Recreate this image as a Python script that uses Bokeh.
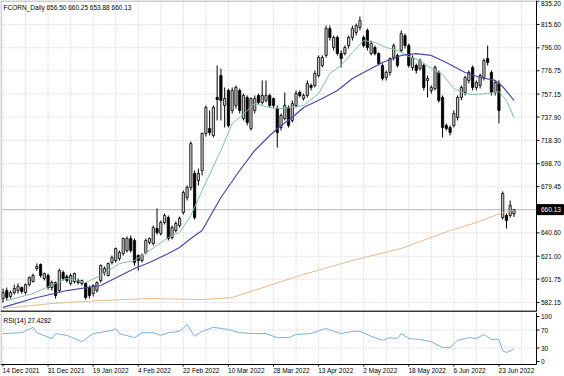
from bokeh.plotting import figure
from bokeh.layouts import column
from bokeh.models import ColumnDataSource, Range1d
from bokeh.core.properties import value
from bokeh.embed import file_html
from bokeh.resources import INLINE

symbol = "FCORN_Daily"
last_ohlc = [656.50, 660.25, 653.88, 660.13]
rsi_last = 27.4282

open_ = [585.5, 592.2, 587.2, 590.5, 592.2, 594.7, 590.5, 597.2, 599.8, 610.7, 614.1, 602.3, 604.8, 594.7,
         598.9, 592.2, 607.3, 604.0, 598.1, 599.8, 600.6, 598.1, 598.1, 594.7, 589.7, 592.2, 600.6, 607.3,
         604.8, 615.7, 617.4, 619.1, 623.3, 625.8, 635.9, 634.2, 621.6, 617.4, 624.1, 632.5, 631.7, 644.3,
         640.1, 649.3, 653.5, 636.7, 642.6, 646.8,
         657.7, 670.3, 678.7, 690.5, 684.6, 693.0, 724.1, 728.2, 722.4, 754.3, 772.7, 747.6, 760.2, 743.4,
         747.6, 760.2, 736.6, 754.3, 728.2, 743.4, 756.0, 750.1, 751.8, 756.0, 753.4, 745.0, 729.1, 736.6,
         745.9, 735.0, 747.6, 758.5, 753.4, 756.0, 764.4, 764.4, 772.7, 781.2, 789.6, 812.2, 796.3, 804.7,
         791.2, 791.2, 797.9, 804.7, 808.9,
         813.1, 804.7, 810.6, 791.2, 796.3, 791.2, 781.2, 771.1, 775.3, 787.9, 789.6, 793.8, 806.3, 797.9,
         779.5, 781.2, 778.6, 781.2, 768.6, 760.2, 761.8, 775.3, 754.3, 730.8, 729.1, 730.8, 737.5, 754.3,
         758.5, 768.6, 779.5, 762.7, 764.4, 771.1, 787.0, 775.3, 758.5, 766.0, 653.5, 655.2, 655.2, 656.50]
high_ = [593.9, 594.7, 592.2, 597.2, 598.1, 595.6, 598.1, 604.0, 606.5, 614.9, 614.9, 607.3, 606.5, 600.6,
         599.8, 610.7, 609.0, 605.7, 606.5, 607.3, 602.3, 601.4, 598.9, 596.4, 597.2, 599.8, 614.1, 612.4,
         615.7, 621.6, 628.3, 625.8, 636.7, 637.6, 638.4, 635.9, 622.5, 623.3, 635.9, 636.7, 646.8, 661.1,
         651.0, 656.9, 655.2, 646.8, 650.2, 654.4,
         676.2, 680.4, 717.3, 693.0, 694.7, 724.9, 747.6, 743.4, 747.6, 781.2, 778.6, 762.7, 761.8, 762.7,
         764.4, 761.8, 757.6, 756.0, 754.3, 756.0, 757.6, 768.6, 768.6, 757.6, 754.3, 747.6, 740.9, 758.5,
         747.6, 751.8, 760.2, 760.2, 757.6, 768.6, 766.0, 777.0, 789.6, 789.6, 814.7, 814.7, 806.3, 806.3,
         793.8, 797.9, 806.3, 814.7, 816.4,
         822.3, 806.3, 812.2, 802.1, 797.9, 792.1, 782.8, 777.0, 787.9, 799.6, 791.2, 810.6, 808.0, 799.6,
         789.6, 782.8, 787.0, 782.8, 772.7, 764.4, 781.2, 777.0, 756.0, 732.5, 730.8, 743.4, 756.0, 764.4,
         772.7, 777.0, 781.2, 768.6, 774.4, 787.0, 797.9, 777.0, 768.6, 768.6, 675.4, 656.9, 667.8, 660.25]
low_ = [582.1, 583.8, 585.5, 588.9, 589.7, 589.7, 588.9, 595.6, 598.9, 609.0, 603.1, 600.6, 593.0, 592.2,
        585.5, 590.5, 600.6, 598.9, 596.4, 598.1, 597.2, 596.4, 584.6, 585.5, 587.2, 590.5, 598.9, 604.8,
        604.0, 614.1, 615.7, 617.4, 621.6, 624.1, 624.1, 613.2, 609.0, 615.7, 622.5, 630.9, 630.0, 639.2,
        638.4, 647.6, 634.2, 635.1, 640.9, 645.1,
        656.0, 667.8, 676.2, 651.8, 680.4, 688.8, 721.5, 722.4, 720.7, 735.0, 735.0, 729.1, 729.1, 740.9,
        745.0, 740.9, 735.0, 730.8, 726.6, 740.9, 748.4, 748.4, 750.1, 745.9, 745.0, 712.3, 726.6, 735.0,
        729.1, 733.3, 745.9, 754.3, 751.8, 754.3, 760.2, 762.7, 771.1, 779.5, 787.9, 802.1, 793.8, 789.6,
        779.5, 789.6, 795.4, 802.1, 806.3,
        810.6, 796.3, 793.8, 789.6, 789.6, 781.2, 768.6, 768.6, 772.7, 785.4, 779.5, 792.1, 795.4, 779.5,
        777.0, 774.4, 777.0, 760.2, 754.3, 757.6, 760.2, 750.1, 720.7, 726.6, 722.4, 729.1, 735.0, 751.8,
        756.0, 766.0, 760.2, 760.2, 761.8, 768.6, 781.2, 756.0, 756.0, 732.5, 651.8, 644.3, 653.5, 653.88]
close_ = [590.5, 586.3, 590.5, 593.9, 595.6, 591.4, 597.2, 603.1, 604.8, 612.4, 604.8, 606.5, 594.7, 598.9,
          588.0, 609.0, 602.3, 600.6, 604.8, 606.5, 598.9, 600.6, 586.3, 588.0, 596.4, 598.9, 613.2, 610.7,
          614.9, 619.9, 627.5, 624.1, 635.9, 635.9, 625.8, 615.7, 617.4, 621.6, 634.2, 635.9, 645.1, 640.9,
          649.3, 655.2, 635.9, 645.1, 648.5, 652.7,
          674.5, 678.7, 715.6, 653.5, 690.5, 724.1, 745.9, 724.9, 745.9, 752.6, 751.8, 753.4, 730.8, 760.2,
          762.7, 743.4, 756.0, 733.3, 753.4, 753.4, 750.1, 756.0, 756.0, 747.6, 747.6, 724.9, 739.2, 747.6,
          730.8, 749.2, 757.6, 756.0, 756.0, 766.0, 762.7, 774.4, 787.9, 787.9, 812.2, 804.7, 804.7, 791.2,
          787.0, 796.3, 804.7, 812.2, 814.7,
          818.9, 797.9, 796.3, 799.6, 791.2, 782.8, 770.2, 775.3, 787.0, 797.9, 781.2, 808.0, 797.9, 781.2,
          787.9, 777.0, 785.4, 762.7, 770.2, 762.7, 779.5, 751.8, 729.1, 728.2, 724.9, 740.9, 754.3, 762.7,
          771.1, 775.3, 762.7, 766.9, 772.7, 785.4, 783.7, 758.5, 766.9, 743.4, 673.7, 651.0, 663.6, 660.13]

ma_fast_idx = [1, 8, 17, 22, 26, 31, 35, 39, 44, 47, 50, 53, 58, 61, 63, 67, 71, 74, 77, 80, 84, 87, 90, 93,
               96, 99, 102, 105, 108, 111, 114, 117, 120, 123, 125, 129, 132, 134, 136]
ma_fast_val = [583.8, 589.7, 602.3, 598.9, 604.8, 614.9, 617.4, 625.8, 636.7, 640.9, 655.2, 676.2, 709.8,
               732.5, 737.5, 749.2, 745.9, 745.0, 745.9, 747.6, 757.6, 774.4, 781.2, 792.1, 802.1, 800.5,
               796.3, 793.8, 788.7, 785.4, 778.6, 773.6, 761.8, 757.6, 756.8, 757.6, 759.3, 751.8, 737.5]
ma_slow_idx = [0, 8, 17, 26, 35, 39, 44, 47, 50, 53, 58, 63, 67, 71, 74, 77, 80, 85, 89, 93, 97, 101, 106,
               110, 114, 118, 123, 127, 131, 133, 136]
ma_slow_val = [578.0, 585.5, 592.2, 596.4, 610.7, 615.7, 623.3, 628.3, 635.9, 642.6, 670.3, 693.0, 709.8,
               722.4, 730.8, 737.5, 745.9, 753.4, 760.2, 770.2, 777.0, 783.7, 789.6, 791.2, 789.6, 783.7,
               775.3, 771.1, 768.6, 763.5, 751.8]
ma_long_idx = [0, 13, 26, 39, 53, 61, 79, 93, 106, 119, 126, 133, 136]
ma_long_val = [577.1, 581.3, 583.8, 585.5, 584.6, 586.3, 604.8, 617.4, 627.5, 642.6, 649.3, 657.7, 659.5]

rsi_idx = [0, 5, 8, 9, 13, 14, 17, 21, 24, 29, 30, 31, 35, 37, 40, 42, 44, 47, 49, 51, 53, 56, 60, 63, 67,
           70, 73, 76, 78, 82, 85, 86, 90, 93, 95, 98, 101, 103, 105, 106, 108, 111, 114, 117, 119, 121,
           124, 126, 128, 130, 132, 133, 134, 136]
rsi_val = [62, 64, 76, 64, 51, 62, 58, 44, 62, 69, 73, 62, 53, 64, 64, 58, 64, 67, 82, 56, 67, 76, 71, 64,
           62, 62, 53, 53, 60, 62, 71, 73, 62, 67, 67, 56, 47, 53, 51, 62, 51, 49, 44, 31, 31, 47, 53, 51,
           60, 49, 49, 24, 20, 27.4282]

price_ticks = [835.20, 815.60, 796.00, 776.75, 757.15, 737.90, 718.30, 698.70, 679.45, 640.60, 621.00,
               601.75, 582.15]
price_grid = price_ticks + [659.85]
rsi_ticks = [100, 70, 30, 0]
rsi_levels = [70, 30]
date_labels = ["14 Dec 2021", "31 Dec 2021", "19 Jan 2022", "4 Feb 2022", "22 Feb 2022", "10 Mar 2022",
               "28 Mar 2022", "13 Apr 2022", "2 May 2022", "18 May 2022", "6 Jun 2022", "23 Jun 2022"]
date_idx = [0, 12, 24, 36, 48, 60, 72, 84, 96, 108, 120, 132]

# ---- layout constants (pixels -> data) ----
BAR_PX = 3.757          # pixels per bar
PPX = 0.8397            # price per pixel (main panel)
RPX = 0.45              # pixels per RSI point
X0 = -2.5 / BAR_PX      # data x at canvas left
X1 = X0 + 564 / BAR_PX  # data x at canvas right


def xpx(px):
    return X0 + px / BAR_PX


XL = xpx(2)      # chart left edge
XA = xpx(536)    # price-scale line
YTOP = 835.74
YBOT = YTOP - 312 * PPX
YSEP = YTOP - 311 * PPX
R_TOP = 49 / RPX
R_BOT = (49 - 64) / RPX
R_FRAME = (49 - 52) / RPX

FONT = value("Liberation Sans")
FS = "6.5px"
GRID_C = "#c4c4c4"
vgrid = list(range(0, 140, 6))

N = len(close_)
idx = list(range(N))
bull = [c >= o for o, c in zip(open_, close_)]
src = ColumnDataSource(dict(
    x=idx, h=high_, l=low_,
    top=[max(o, c) for o, c in zip(open_, close_)],
    bot=[min(o, c) for o, c in zip(open_, close_)],
    fill=["#c8c8c8" if b else "#000000" for b in bull],
))

XR = Range1d(X0, X1)


def base_fig(h, yr):
    f = figure(width=564, height=h, x_range=XR, y_range=yr, output_backend="svg",
               toolbar_location=None, x_axis_location=None, y_axis_location=None,
               min_border=0, min_border_left=0, min_border_right=0, min_border_top=0,
               min_border_bottom=0)
    f.xgrid.visible = False
    f.ygrid.visible = False
    f.outline_line_color = None
    f.background_fill_color = "white"
    f.border_fill_color = "white"
    return f


# ================= main panel =================
p = base_fig(312, Range1d(YBOT, YTOP))

# grid
p.segment(x0=vgrid, y0=[YSEP] * len(vgrid), x1=vgrid, y1=[YTOP] * len(vgrid),
          line_color=GRID_C, line_dash="1 2", line_width=1)
p.segment(x0=[XL] * len(price_grid), y0=price_grid, x1=[XA] * len(price_grid), y1=price_grid,
          line_color=GRID_C, line_dash="1 2", line_width=1)
# bid line
p.segment(x0=[XL], y0=[last_ohlc[3]], x1=[XA], y1=[last_ohlc[3]], line_color="#bdbdbd", line_width=1)

# candles
p.segment(x0="x", y0="l", x1="x", y1="h", source=src, line_color="black", line_width=1)
p.vbar(x="x", top="top", bottom="bot", width=0.6, source=src, fill_color="fill",
       line_color="black", line_width=0.8)

# moving averages
p.line(ma_long_idx, ma_long_val, line_color="#e3bb92", line_width=1)
p.line(ma_fast_idx, ma_fast_val, line_color="#80c29c", line_width=1)
p.line(ma_slow_idx, ma_slow_val, line_color="#4a48a4", line_width=1.2)

# frame lines
p.segment(x0=[xpx(0.5)], y0=[YSEP], x1=[xpx(0.5)], y1=[YTOP], line_color="#a8a8a8", line_width=1)
p.segment(x0=[xpx(0)], y0=[YTOP - 0.5 * PPX], x1=[XA], y1=[YTOP - 0.5 * PPX],
          line_color="#a8a8a8", line_width=1)
p.segment(x0=[XA], y0=[YSEP], x1=[XA], y1=[YTOP], line_color="black", line_width=1)
p.segment(x0=[xpx(0)], y0=[YSEP], x1=[XA], y1=[YSEP], line_color="#3c3c3c", line_width=2)

# price scale
p.segment(x0=[XA] * len(price_ticks), y0=price_ticks, x1=[xpx(539)] * len(price_ticks), y1=price_ticks,
          line_color="black", line_width=1)
scale_ticks = price_ticks[1:]
p.text(x=[xpx(540.5)] * len(scale_ticks), y=scale_ticks, text=[f"{v:.2f}" for v in scale_ticks],
       text_font=FONT, text_font_size=FS, text_baseline="middle", text_align="left", text_color="black")
# top-most label kept fully inside the canvas
p.text(x=[xpx(540.5)], y=[YTOP - 0.5 * PPX], text=[f"{price_ticks[0]:.2f}"],
       text_font=FONT, text_font_size=FS, text_baseline="top", text_align="left", text_color="black")

# current price box
p.quad(left=[xpx(536.5)], right=[xpx(563)], top=[last_ohlc[3] + 5 * PPX], bottom=[last_ohlc[3] - 5 * PPX],
       fill_color="black", line_color="black")
p.text(x=[xpx(540.5)], y=[last_ohlc[3]], text=[f"{last_ohlc[3]:.2f}"], text_font=FONT,
       text_font_size=FS, text_baseline="middle", text_align="left", text_color="white")

# header text
p.text(x=[xpx(3)], y=[YTOP - 3 * PPX],
       text=[f"{symbol}  " + " ".join(f"{v:.2f}" for v in last_ohlc)],
       text_font=FONT, text_font_size=FS, text_baseline="top", text_align="left", text_color="black")

# ================= RSI panel =================
r = base_fig(64, Range1d(R_BOT, R_TOP))

r.segment(x0=vgrid, y0=[R_FRAME] * len(vgrid), x1=vgrid, y1=[R_TOP] * len(vgrid),
          line_color=GRID_C, line_dash="1 2", line_width=1)
r.segment(x0=[XL] * len(rsi_levels), y0=rsi_levels, x1=[XA] * len(rsi_levels), y1=rsi_levels,
          line_color=GRID_C, line_dash="1 2", line_width=1)

r.line(rsi_idx, rsi_val, line_color="#7ab0de", line_width=1)

r.segment(x0=[xpx(0.5)], y0=[R_FRAME], x1=[xpx(0.5)], y1=[R_TOP], line_color="#a8a8a8", line_width=1)
r.segment(x0=[XA], y0=[R_FRAME], x1=[XA], y1=[R_TOP], line_color="black", line_width=1)
r.segment(x0=[xpx(0)], y0=[R_FRAME], x1=[XA], y1=[R_FRAME], line_color="black", line_width=1)

r.segment(x0=[XA] * len(rsi_ticks), y0=rsi_ticks, x1=[xpx(539)] * len(rsi_ticks), y1=rsi_ticks,
          line_color="black", line_width=1)
r.text(x=[xpx(540.5)] * len(rsi_ticks), y=rsi_ticks, text=[str(v) for v in rsi_ticks],
       text_font=FONT, text_font_size=FS, text_baseline="middle", text_align="left", text_color="black")

# date labels + ticks
r.segment(x0=date_idx, y0=[R_FRAME] * len(date_idx), x1=date_idx,
          y1=[R_FRAME - 2 / RPX] * len(date_idx), line_color="black", line_width=1)
r.text(x=[i - 0.1 for i in date_idx], y=[R_FRAME - 2.5 / RPX] * len(date_idx), text=date_labels,
       text_font=FONT, text_font_size=FS, text_baseline="top", text_align="left", text_color="black")

r.text(x=[xpx(3)], y=[R_TOP - 4 / RPX], text=[f"RSI(14) {rsi_last:.4f}"], text_font=FONT,
       text_font_size=FS, text_baseline="top", text_align="left", text_color="black")

layout = column(p, r, spacing=0)
open("out.html", "w").write(file_html(layout, INLINE))
